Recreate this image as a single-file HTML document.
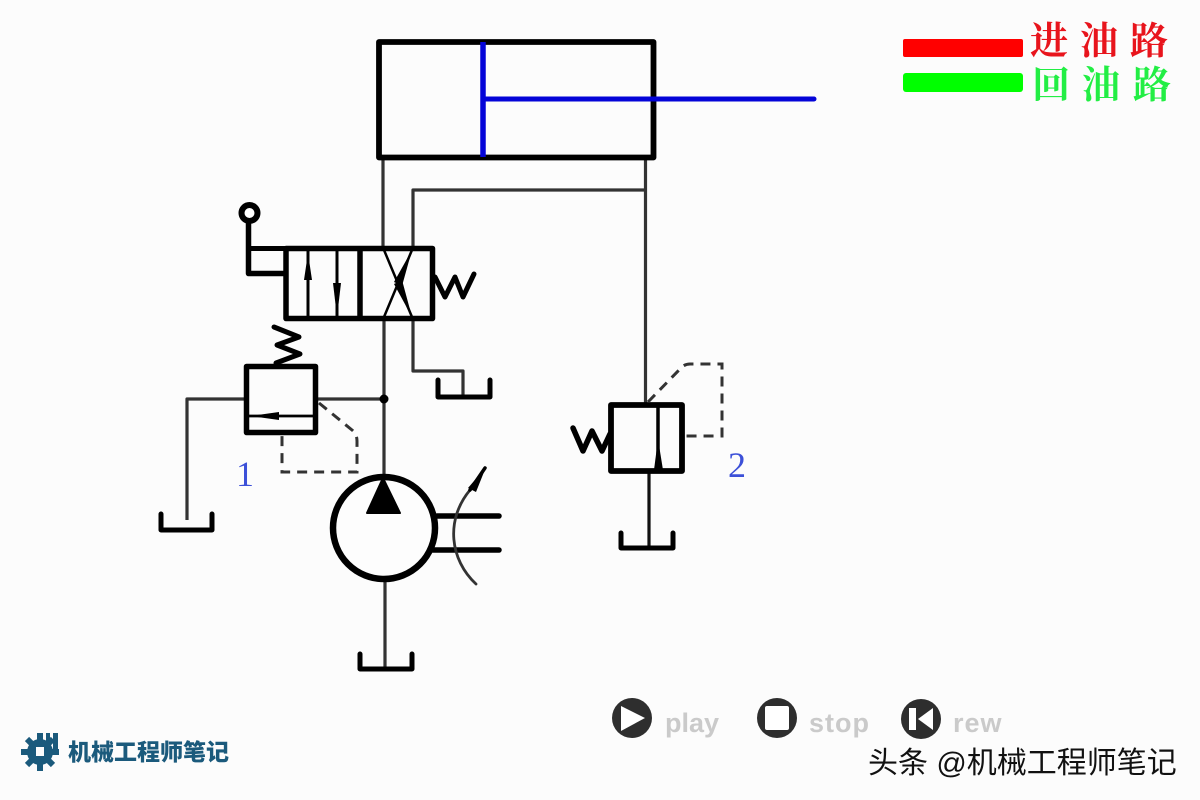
<!DOCTYPE html>
<html lang="zh">
<head>
<meta charset="utf-8">
<style>
html,body{margin:0;padding:0;width:1200px;height:800px;overflow:hidden;background:#fcfcfc}
svg{display:block}
</style>
</head>
<body>
<svg width="1200" height="800" viewBox="0 0 1200 800" xmlns="http://www.w3.org/2000/svg">
<rect width="1200" height="800" fill="#fcfcfc"/>

<!-- thin pipes -->
<g fill="none" stroke="#333" stroke-width="3.200" stroke-linejoin="round">
  <path d="M383 158V248"/>
  <path d="M413 248V190H645"/>
  <path d="M645.500 158V404"/>
  <path d="M384 319V478"/>
  <path d="M413 319V371H463V397"/>
  <path d="M245 399H187V520"/>
  <path d="M317 399H384"/>
  <path d="M385 580V668"/>
  <path d="M649 472V546" stroke="#111"/>
</g>

<!-- cylinder -->
<rect x="379" y="42" width="274.500" height="115.500" fill="none" stroke="#000" stroke-width="5.800" stroke-linejoin="round"/>
<path d="M483 42V157" stroke="#0404d8" stroke-width="5.500" fill="none"/>
<path d="M483 99H814" stroke="#0404d8" stroke-width="5" stroke-linecap="round" fill="none"/>

<!-- directional valve -->
<g fill="none" stroke="#000" stroke-linejoin="round">
  <rect x="286" y="248.500" width="146.500" height="70" stroke-width="5.500"/>
  <path d="M360 248V319" stroke-width="5.500"/>
  <path d="M248.500 221V273.500H285" stroke-width="5.500"/>
  <path d="M248.500 248.500H285" stroke-width="5"/>
  <circle cx="249.500" cy="213" r="8" stroke-width="6" fill="#fff"/>
  <path d="M308 250V317M337 250V317" stroke-width="3"/>
  <path d="M384 250L412 317M412 250L384 317" stroke-width="2.500"/>
  <path d="M435 277L445 297L455 277L463 297L474 274" stroke-width="5" stroke-linecap="round"/>
</g>
<g fill="#000">
  <path d="M308 253L312 280H304Z"/>
  <path d="M337 317L341 283H333Z"/>
  <path d="M412 250L402 286L394 282Z"/>
  <path d="M412 317L402 280L394 284Z"/>
</g>

<!-- relief valve 1 -->
<g fill="none" stroke="#000" stroke-linejoin="round">
  <rect x="246.500" y="366.500" width="69" height="66" stroke-width="5.500"/>
  <path d="M249 416H314" stroke-width="2.800"/>
  <path d="M274 327L299 337L277 345L300 354L276 363" stroke-width="5" stroke-linecap="round"/>
</g>
<path d="M250 416L279 412V420Z" fill="#000"/>
<circle cx="384" cy="399" r="4.500" fill="#000"/>
<path d="M319 403L352 430Q357 434 357 441V472H282V434" fill="none" stroke="#333" stroke-width="3" stroke-dasharray="10 7"/>

<!-- tanks -->
<g fill="none" stroke="#000" stroke-width="5" stroke-linecap="round" stroke-linejoin="round">
  <path d="M161 514V530H212V514"/>
  <path d="M438 380V397H490V380"/>
  <path d="M360 654V669H412V654"/>
  <path d="M621 533V548H673V533"/>
</g>

<!-- pump -->
<circle cx="384" cy="528" r="51" fill="#fdfdfd" stroke="#000" stroke-width="6.500"/>
<path d="M383 478L400 513H367Z" fill="#000" stroke="#000" stroke-width="2" stroke-linejoin="round"/>
<g fill="none" stroke="#000" stroke-linecap="round">
  <path d="M437 516H499" stroke-width="5.500"/>
  <path d="M433 550H499" stroke-width="5.500"/>
  <path d="M476 584C450 560 445 520 470 490" stroke="#333" stroke-width="2.800"/>
  <path d="M470 490L485 468" stroke-width="3.500"/>
</g>
<path d="M468 488L486 467L476 492Z" fill="#000"/>

<!-- relief valve 2 -->
<g fill="none" stroke="#000" stroke-linejoin="round">
  <rect x="611" y="405" width="71" height="66" stroke-width="5.800"/>
  <path d="M658 405V471" stroke-width="3.500"/>
  <path d="M573 428L583 451L592 431L602 451L610 434" stroke-width="5.500" stroke-linecap="round"/>
</g>
<path d="M658 439L663 470H654Z" fill="#000"/>
<path d="M648 402L680 369Q684 364 690 364H722V436H684" fill="none" stroke="#333" stroke-width="3" stroke-dasharray="10 7"/>

<!-- number labels -->
<text x="245" y="486" font-family="'Liberation Serif',serif" font-size="36" fill="#3c50d8" text-anchor="middle">1</text>
<text x="737" y="477" font-family="'Liberation Serif',serif" font-size="36" fill="#3c50d8" text-anchor="middle">2</text>

<!-- legend -->
<rect x="903" y="39" width="120" height="18" rx="2" fill="#ff0000"/>
<rect x="903" y="73" width="120" height="19" rx="3" fill="#00ff00"/>
<text y="54" font-family="'Liberation Serif','Noto Serif CJK SC',serif" font-size="38" font-weight="bold" fill="#e8141c"><tspan x="1030">进</tspan><tspan x="1080">油</tspan><tspan x="1130">路</tspan></text>
<text y="98" font-family="'Liberation Serif','Noto Serif CJK SC',serif" font-size="38" font-weight="bold" fill="#22ee44"><tspan x="1032">回</tspan><tspan x="1082">油</tspan><tspan x="1133">路</tspan></text>

<!-- controls -->
<circle cx="632" cy="718" r="20" fill="#2e2e2e"/>
<path d="M621 706L645 718L621 731Z" fill="#fff"/>
<circle cx="777" cy="718" r="20" fill="#2e2e2e"/>
<rect x="765" y="706" width="24" height="24" rx="2" fill="#fff"/>
<circle cx="921" cy="719" r="20" fill="#2e2e2e"/>
<rect x="909" y="708" width="7" height="22" fill="#fff"/>
<path d="M933 708V730L918 719Z" fill="#fff"/>
<g font-family="'Liberation Sans',sans-serif" font-size="27" font-weight="bold" fill="#cacaca">
  <text x="665" y="732">play</text>
  <text x="809" y="732" letter-spacing="1">stop</text>
  <text x="953" y="732" letter-spacing="1">rew</text>
</g>

<!-- logo -->
<g fill="#1b5a7c">
  <circle cx="40" cy="752" r="13"/>
  <g stroke="#1b5a7c" stroke-width="6">
    <path d="M40 733V771M21 752H59M27 739L53 765M27 765L53 739"/>
  </g>
  <rect x="46" y="733" width="4" height="16"/>
  <rect x="53" y="733" width="5" height="16"/>
</g>
<rect x="36" y="747" width="8" height="9" fill="#fcfcfc"/>
<text x="68" y="760" font-family="'Liberation Sans','Noto Sans CJK SC',sans-serif" font-size="23" font-weight="900" fill="#1b5a7c">机械工程师笔记</text>

<!-- watermark -->
<text x="868" y="773" font-family="'Liberation Sans','Noto Sans CJK SC',sans-serif" font-size="30" fill="#111">头条 @机械工程师笔记</text>
</svg>
</body>
</html>
